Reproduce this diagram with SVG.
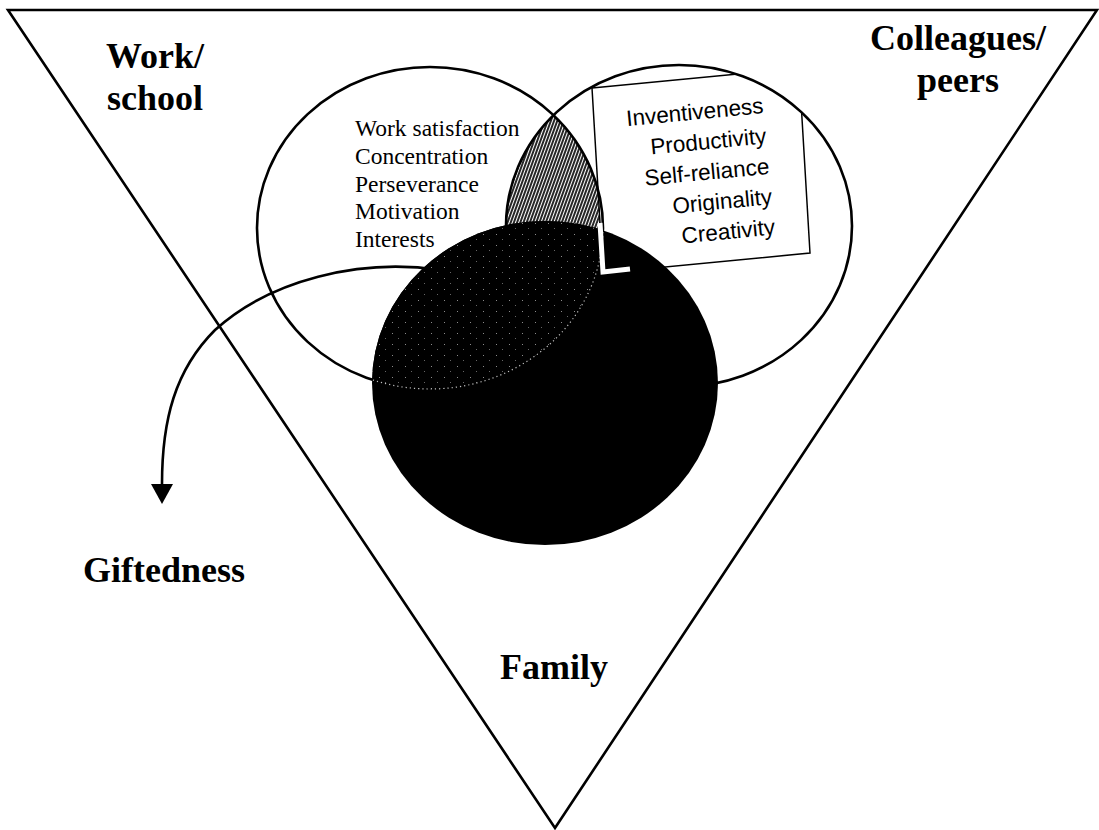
<svg xmlns="http://www.w3.org/2000/svg" width="1099" height="830" viewBox="0 0 1099 830">
<style>
.ln{fill:none;stroke:#000;stroke-width:2.6}
.ttl{font-family:"Liberation Serif","Times New Roman",serif;font-weight:bold;font-size:36px;fill:#000}
.lst{font-family:"Liberation Serif","Times New Roman",serif;font-size:23.5px;fill:#000}
.box{font-family:"Liberation Sans",Arial,sans-serif;font-size:22.5px;fill:#000}
</style>
<defs>
<clipPath id="cpRight"><ellipse cx="679" cy="226" rx="173" ry="161"/></clipPath>
<clipPath id="cpBlack"><ellipse cx="545" cy="383" rx="173" ry="162"/></clipPath>
<pattern id="hatch" width="3" height="10" patternUnits="userSpaceOnUse" patternTransform="rotate(20)">
<rect width="3" height="10" fill="#fff"/>
<line x1="1" y1="0" x2="1" y2="10" stroke="#000" stroke-width="1.7"/>
</pattern>
<pattern id="speck" width="13" height="11" patternUnits="userSpaceOnUse">
<rect width="13" height="11" fill="#000"/>
<rect x="2" y="3" width="1" height="1" fill="#fff" opacity="0.55"/>
<rect x="8" y="8" width="1" height="1" fill="#fff" opacity="0.4"/>
</pattern>
</defs>

<g id="context-triangle">
<polygon class="ln" points="8,10 1097,10 555,828" stroke-width="2.8"/>
</g>

<g id="connectors">
<path class="ln" d="M440,270 C360,258 270,280 215,330 C175,370 162,420 162,484" stroke-width="2.4"/>
<path d="M151,484 L173,484 L162,504 Z" fill="#000"/>
</g>

<g id="lens-overlap">
<ellipse cx="430" cy="228" rx="173" ry="161" fill="url(#hatch)" clip-path="url(#cpRight)"/>
</g>

<g id="node-colleagues-box">
<polygon points="592,88 799,68 810,253 603,273" fill="#fff" stroke="#000" stroke-width="1.5" clip-path="url(#cpRight)"/>
</g>

<g id="node-work-circle">
<ellipse class="ln" cx="430" cy="228" rx="173" ry="161"/>
</g>
<g id="node-colleagues-circle">
<ellipse class="ln" cx="679" cy="226" rx="173" ry="161"/>
</g>

<g id="node-family-circle">
<ellipse cx="545" cy="383" rx="173" ry="162" fill="#000"/>
<ellipse cx="430" cy="228" rx="173" ry="161" fill="url(#speck)" clip-path="url(#cpBlack)"/>
<ellipse cx="430" cy="228" rx="173" ry="161" fill="none" stroke="#fff" stroke-width="1.2" stroke-dasharray="1.2 3" opacity="0.75" clip-path="url(#cpBlack)"/>
<path d="M600,223 L603,272 L630,269" fill="none" stroke="#fff" stroke-width="5"/>
</g>

<g id="node-work-list">
<text class="lst" x="355" y="136">Work satisfaction</text>
<text class="lst" x="355" y="164">Concentration</text>
<text class="lst" x="355" y="192">Perseverance</text>
<text class="lst" x="355" y="219">Motivation</text>
<text class="lst" x="355" y="247">Interests</text>
</g>

<g id="node-colleagues-list" transform="translate(764,113) rotate(-5.5)">
<text class="box" x="0" y="0" text-anchor="end">Inventiveness</text>
<text class="box" x="0" y="30.5" text-anchor="end">Productivity</text>
<text class="box" x="0" y="61" text-anchor="end">Self-reliance</text>
<text class="box" x="0" y="91.5" text-anchor="end">Originality</text>
<text class="box" x="0" y="122" text-anchor="end">Creativity</text>
</g>

<g id="node-work-title">
<text class="ttl" x="155" y="68" text-anchor="middle">Work/</text>
<text class="ttl" x="155" y="110" text-anchor="middle">school</text>
</g>
<g id="node-colleagues-title">
<text class="ttl" x="958" y="50" text-anchor="middle">Colleagues/</text>
<text class="ttl" x="958" y="92" text-anchor="middle">peers</text>
</g>
<g id="node-family-title">
<text class="ttl" x="554" y="679" text-anchor="middle">Family</text>
</g>
<g id="node-giftedness">
<text class="ttl" x="245" y="582" text-anchor="end">Giftedness</text>
</g>
</svg>
